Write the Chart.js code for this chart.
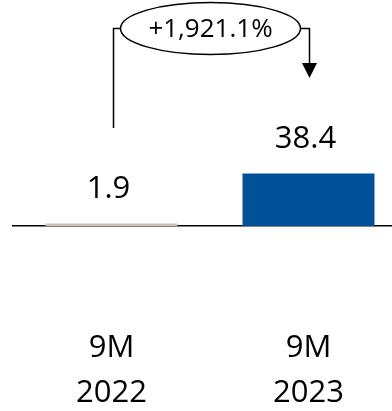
<!DOCTYPE html>
<html>
<head>
<meta charset="utf-8">
<script src="https://cdn.jsdelivr.net/npm/chart.js@4/dist/chart.umd.min.js"></script>
<style>
  html, body { margin: 0; padding: 0; background: #fff; overflow: hidden; width: 392px; height: 411px; }
  #wrap { position: relative; width: 392px; height: 411px; overflow: hidden; }
  #c { position: absolute; left: 0; top: 0; }
</style>
</head>
<body>
<div id="wrap"><canvas id="c" width="410" height="419" style="width:410px;height:419px"></canvas></div>
<script>
// Period labels (two lines each) and values
const periods = [["9M", "2022"], ["9M", "2023"]];
const values = [1.9, 38.4];
const barColors = ["#C8C0B5", "#005197"];
const growthLabel = "+1,921.1%";

const FONT = "'Open Sans', 'Liberation Sans', sans-serif";
const LABEL_OFFSET = 34.5;   // value label centre above bar top
const LINK_OFFSET = 95.5;    // bracket ends above bar top

// Value labels above each bar
const valueLabels = {
  id: "valueLabels",
  afterDatasetsDraw(chart) {
    const ctx = chart.ctx;
    const meta = chart.getDatasetMeta(0);
    ctx.save();
    ctx.font = "31px " + FONT;
    ctx.fillStyle = "#000";
    ctx.textAlign = "center";
    ctx.textBaseline = "middle";
    meta.data.forEach((bar, i) => {
      ctx.fillText(values[i].toFixed(1), bar.x - 3, bar.y - LABEL_OFFSET);
    });
    ctx.restore();
  }
};

// Growth bracket: line from the first bar, ellipse with the change, arrow down to the second bar
const growthBracket = {
  id: "growthBracket",
  afterDatasetsDraw(chart) {
    const ctx = chart.ctx;
    const meta = chart.getDatasetMeta(0);
    const a = meta.data[0], b = meta.data[1];
    const xa = a.x + 2, xb = b.x + 1;
    const yTop = chart.chartArea.top + 28.5;
    const yA = a.y - LINK_OFFSET;
    const yB = b.y - LINK_OFFSET;
    const cx = (a.x + b.x) / 2 + 0.5;
    const rx = 90, ry = 26;

    ctx.save();
    ctx.strokeStyle = "#000";
    ctx.fillStyle = "#000";
    ctx.lineWidth = 1.5;

    ctx.beginPath();
    ctx.moveTo(xa, yA);
    ctx.lineTo(xa, yTop);
    ctx.lineTo(cx - rx, yTop);
    ctx.stroke();

    ctx.beginPath();
    ctx.moveTo(cx + rx, yTop);
    ctx.lineTo(xb, yTop);
    ctx.lineTo(xb, yB - 14);
    ctx.stroke();

    ctx.beginPath();
    ctx.moveTo(xb - 7.5, yB - 15);
    ctx.lineTo(xb + 7.5, yB - 15);
    ctx.lineTo(xb, yB);
    ctx.closePath();
    ctx.fill();

    ctx.beginPath();
    ctx.ellipse(cx, yTop, rx, ry, 0, 0, Math.PI * 2);
    ctx.fillStyle = "#fff";
    ctx.fill();
    ctx.stroke();

    ctx.fillStyle = "#000";
    ctx.font = "26px " + FONT;
    ctx.textAlign = "center";
    ctx.textBaseline = "middle";
    ctx.fillText(growthLabel, cx, yTop + 1);
    ctx.restore();
  }
};

new Chart(document.getElementById("c"), {
  type: "bar",
  data: {
    labels: periods,
    datasets: [{
      data: values,
      backgroundColor: barColors,
      borderWidth: 0,
      barPercentage: 1,
      categoryPercentage: 0.67
    }]
  },
  options: {
    responsive: false,
    devicePixelRatio: 1,
    animation: false,
    layout: { padding: { left: 13, right: 3, top: 0, bottom: 0 } },
    plugins: { legend: { display: false }, tooltip: { enabled: false } },
    scales: {
      y: { display: false, min: 0, max: 165 },
      x: {
        grid: { display: false, drawTicks: true, tickLength: 97, tickColor: "rgba(0,0,0,0)" },
        border: { display: true, color: "#000", width: 1.5 },
        ticks: {
          color: "#000",
          padding: 3,
          font: { family: FONT, size: 31, lineHeight: 1.45 }
        }
      }
    }
  },
  plugins: [valueLabels, growthBracket]
});
</script>
</body>
</html>
